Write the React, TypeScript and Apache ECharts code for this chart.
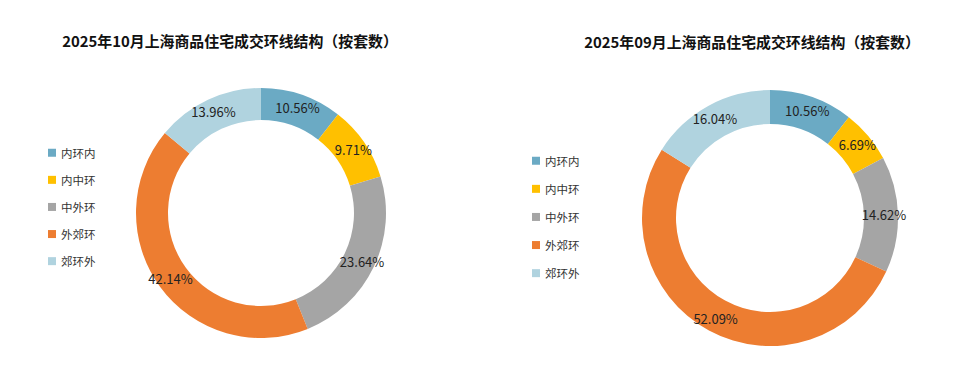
import React, { useEffect, useRef } from "react";
import * as echarts from "echarts";

const categories = ["内环内", "内中环", "中外环", "外郊环", "郊环外"];
const octValues = [10.56, 9.71, 23.64, 42.14, 13.96];
const sepValues = [10.56, 6.69, 14.62, 52.09, 16.04];
const colors = ["#6BAAC4", "#FFC000", "#A5A5A5", "#ED7D31", "#B0D3DF"];
const titleOct = "2025年10月上海商品住宅成交环线结构（按套数）";
const titleSep = "2025年09月上海商品住宅成交环线结构（按套数）";

const FONT = "'Noto Sans CJK SC', 'Noto Sans', sans-serif";

export default function App() {
  const ref = useRef<HTMLDivElement>(null);
  useEffect(() => {
    document.body.style.margin = "0";
    const chart = echarts.init(ref.current!, null, { renderer: "svg" });
    const pieSeries = (center: [number, number], radius: [number, number], values: number[]) => ({
      type: "pie",
      center,
      radius,
      startAngle: 90,
      clockwise: true,
      avoidLabelOverlap: false,
      silent: true,
      label: {
        show: true,
        position: "inside",
        formatter: (p: any) => p.value.toFixed(2) + "%",
        color: "#222",
        fontSize: 13,
        fontFamily: FONT,
        textBorderWidth: 0,
      },
      labelLine: { show: false },
      itemStyle: { borderWidth: 0 },
      data: categories.map((c, i) => ({ name: c, value: values[i], itemStyle: { color: colors[i] } })),
    });
    const legendBase = {
      orient: "vertical",
      itemWidth: 8,
      itemHeight: 8,
      icon: "rect",
      selectedMode: false,
      data: categories,
      textStyle: { fontSize: 11.5, color: "#333", fontFamily: FONT },
    };
    chart.setOption({
      animation: false,
      textStyle: { fontFamily: FONT },
      title: [
        {
          text: titleOct,
          left: 225,
          top: 28,
          textAlign: "center",
          textStyle: { fontSize: 14.9, fontWeight: "bold", color: "#111", fontFamily: FONT },
        },
        {
          text: titleSep,
          left: 747,
          top: 29,
          textAlign: "center",
          textStyle: { fontSize: 14.9, fontWeight: "bold", color: "#111", fontFamily: FONT },
        },
      ],
      legend: [
        { ...legendBase, left: 43, top: 142, itemGap: 15.6 },
        { ...legendBase, left: 527, top: 150, itemGap: 16.6 },
      ],
      series: [
        pieSeries([261, 213], [93, 125], octValues),
        pieSeries([770, 218], [94, 128], sepValues),
      ],
    });
    return () => chart.dispose();
  }, []);
  return <div ref={ref} style={{ width: 960, height: 378 }} />;
}
